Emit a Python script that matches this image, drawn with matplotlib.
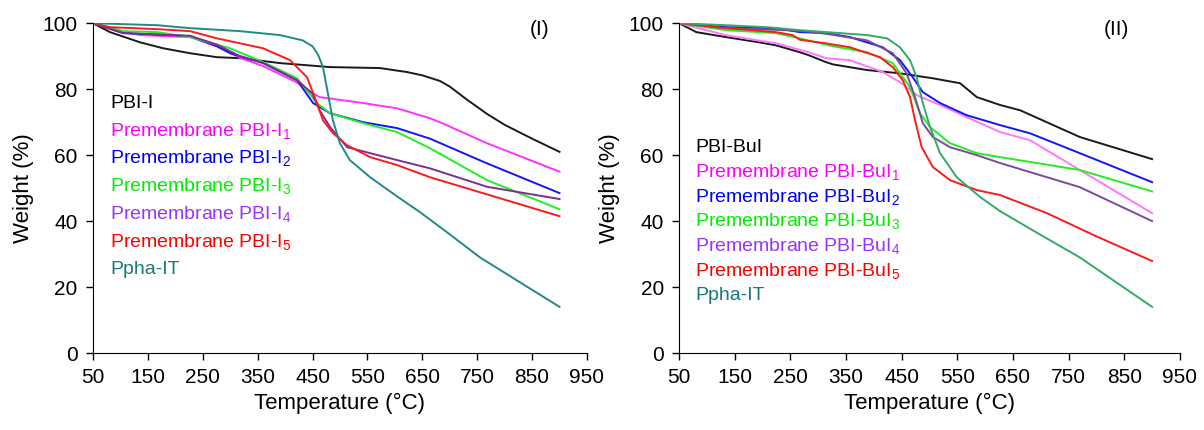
import matplotlib.pyplot as plt

plt.rcParams['font.family'] = ['Liberation Sans', 'DejaVu Sans']
plt.rcParams['mathtext.default'] = 'regular'

# ==============================
# Panel (I) data: temperature (C) and weight (%)
# ==============================
t_pbi_i = [50, 81, 136, 178, 227, 276, 318, 391, 482, 573, 622, 650, 682, 700, 730, 768, 800, 850, 900]
w_pbi_i = [100, 97.3, 94.2, 92.4, 90.9, 89.7, 89.4, 87.9, 86.7, 86.4, 85.2, 84.2, 82.5, 80.8, 77, 72.5, 69.2, 65, 61]

t_i1 = [50, 105, 136, 196, 227, 276, 318, 360, 422, 440, 463, 542, 604, 664, 682, 768, 900]
w_i1 = [100, 97.5, 96.4, 96, 95.8, 93, 89.5, 87, 82, 79.7, 77.6, 75.8, 74.2, 71.2, 70, 63.6, 55]

t_i2 = [50, 105, 196, 227, 276, 300, 360, 422, 451, 482, 542, 604, 664, 768, 900]
w_i2 = [100, 97, 96.4, 96, 93, 90.9, 87.9, 82.7, 75.8, 72.7, 70, 68.2, 65, 57.5, 48.5]

t_i3 = [50, 105, 167, 227, 276, 300, 360, 422, 458, 482, 542, 604, 664, 768, 900]
w_i3 = [100, 97.6, 97.3, 95.8, 93.5, 92.4, 88.2, 83.3, 75.8, 72.7, 69.7, 67, 62.1, 52.4, 43.6]

t_i4 = [50, 105, 196, 227, 276, 318, 360, 422, 449, 463, 482, 513, 555, 604, 664, 768, 900]
w_i4 = [100, 97, 96.4, 96.2, 93.5, 90, 88, 82.7, 78.8, 73.6, 68.5, 62.4, 60.6, 58.5, 56, 50.4, 46.7]

t_i5 = [50, 81, 167, 227, 276, 318, 360, 409, 440, 454, 469, 487, 513, 555, 604, 664, 768, 900]
w_i5 = [100, 98.8, 98.2, 97.6, 95.4, 93.9, 92.4, 88.8, 83.6, 77.6, 70.6, 66.7, 63, 59.4, 57, 53.3, 48.1, 41.5]

t_ppha_1 = [50, 167, 227, 318, 391, 432, 450, 460, 469, 478, 487, 500, 518, 555, 604, 646, 700, 755, 900]
w_ppha_1 = [100, 99.4, 98.5, 97.6, 96.4, 94.8, 93, 90.5, 86.7, 78.8, 70.6, 63.6, 58.5, 53.3, 47.5, 42.7, 36, 29, 14]

# ==============================
# Panel (II) data
# ==============================
t_pbi_bui = [50, 81, 134, 194, 224, 267, 283, 314, 327, 388, 447, 506, 555, 585, 627, 663, 770, 900]
w_pbi_bui = [100, 97.3, 95.8, 94.2, 93.3, 91.2, 90.3, 88.2, 87.5, 85.8, 84.8, 83.3, 81.8, 77.6, 75.2, 73.6, 65.5, 58.8]

t_bui1 = [50, 134, 224, 283, 314, 357, 416, 447, 477, 519, 567, 627, 681, 770, 900]
w_bui1 = [100, 96.4, 93.9, 91.2, 89.4, 88.8, 85.2, 82.1, 78.2, 75.2, 71.5, 67, 64.5, 55.5, 42.4]

t_bui2 = [50, 134, 224, 267, 314, 357, 416, 447, 470, 488, 519, 567, 627, 681, 770, 900]
w_bui2 = [100, 98.8, 98.5, 97.3, 97, 95.8, 92.7, 88.8, 83.6, 79.1, 75.8, 72.1, 69.1, 66.6, 60.6, 51.8]

t_bui3 = [50, 134, 224, 267, 327, 388, 434, 465, 483, 501, 537, 585, 627, 770, 900]
w_bui3 = [100, 97.9, 97, 95.4, 93, 91.2, 87.9, 80.6, 72.7, 68.5, 63.6, 60.6, 59.4, 55.5, 49]

t_bui4 = [50, 134, 224, 267, 314, 388, 434, 459, 474, 488, 506, 537, 585, 627, 770, 900]
w_bui4 = [100, 98.5, 98, 97.7, 96.8, 94.8, 90.9, 84.8, 77.6, 69.7, 65.5, 62.4, 60, 57.6, 50.3, 40]

t_bui5 = [50, 134, 224, 254, 267, 314, 357, 411, 434, 452, 465, 474, 486, 506, 537, 585, 627, 711, 801, 900]
w_bui5 = [100, 98.5, 97.3, 96.4, 95, 93.9, 92.7, 89.7, 86.7, 82.7, 77.6, 70.6, 62.4, 56.4, 52.4, 49.4, 47.9, 42.4, 35.3, 27.9]

t_ppha_2 = [50, 134, 208, 267, 388, 424, 447, 465, 477, 488, 501, 519, 549, 591, 627, 700, 770, 900]
w_ppha_2 = [100, 99.4, 98.8, 97.9, 96.4, 95.4, 92.7, 88.8, 83.6, 75.8, 68.5, 60.6, 53.3, 47.3, 43, 35.8, 29, 14]

# ==============================
# Labels and colours
# ==============================
labels_1 = ['PBI-I', 'Premembrane PBI-I$_1$', 'Premembrane PBI-I$_2$', 'Premembrane PBI-I$_3$',
            'Premembrane PBI-I$_4$', 'Premembrane PBI-I$_5$', 'Ppha-IT']
labels_2 = ['PBI-BuI', 'Premembrane PBI-BuI$_1$', 'Premembrane PBI-BuI$_2$', 'Premembrane PBI-BuI$_3$',
            'Premembrane PBI-BuI$_4$', 'Premembrane PBI-BuI$_5$', 'Ppha-IT']
text_colors = ['black', '#ff00ff', '#0000ff', '#00ee00', '#9933ff', '#ff0000', '#1a7a7a']
line_colors_1 = ['#1a1a1a', '#ff33ff', '#1414ff', '#22ee22', '#7a3090', '#ff1a1a', '#208a8a']
line_colors_2 = ['#1a1a1a', '#ff77ff', '#1414ff', '#22ee22', '#7a4aa0', '#ff1a1a', '#33aa66']

panel_1 = [(t_pbi_i, w_pbi_i), (t_i1, w_i1), (t_i2, w_i2), (t_i3, w_i3),
           (t_i4, w_i4), (t_i5, w_i5), (t_ppha_1, w_ppha_1)]
panel_2 = [(t_pbi_bui, w_pbi_bui), (t_bui1, w_bui1), (t_bui2, w_bui2), (t_bui3, w_bui3),
           (t_bui4, w_bui4), (t_bui5, w_bui5), (t_ppha_2, w_ppha_2)]

fig = plt.figure(figsize=(12.04, 4.30), dpi=100)
ax1 = fig.add_axes([0.0772, 0.179, 0.4103, 0.767])
ax2 = fig.add_axes([0.564, 0.179, 0.416, 0.767])


def draw_panel(ax, series, line_colors, labels, tag, tag_x, text_x, text_y0, text_step):
    for (t, w), c in zip(series, line_colors):
        ax.plot(t, w, color=c, lw=1.4, solid_joinstyle='round')
    # labels written straight onto the plot, no legend box
    for i, (lab, c) in enumerate(zip(labels, text_colors)):
        ax.text(text_x, text_y0 - i * text_step, lab, color=c, fontsize=14, va='center', ha='left')
    ax.text(tag_x, 98, tag, fontsize=15, ha='center', va='center')
    ax.set_xlim(50, 950)
    ax.set_ylim(0, 100)
    ax.set_xticks(range(50, 951, 100))
    ax.set_yticks(range(0, 101, 20))
    ax.spines['top'].set_visible(False)
    ax.spines['right'].set_visible(False)
    ax.tick_params(direction='out', length=5, width=1, labelsize=15, pad=6)
    ax.set_xlabel('Temperature (°C)', fontsize=16, labelpad=4)
    ax.set_ylabel('Weight (%)', fontsize=16, labelpad=6)


draw_panel(ax1, panel_1, line_colors_1, labels_1, '(I)', 864, 81, 75.8, 8.4)
draw_panel(ax2, panel_2, line_colors_2, labels_2, '(II)', 836, 79, 62.4, 7.5)

plt.savefig('out.png', dpi=100)
